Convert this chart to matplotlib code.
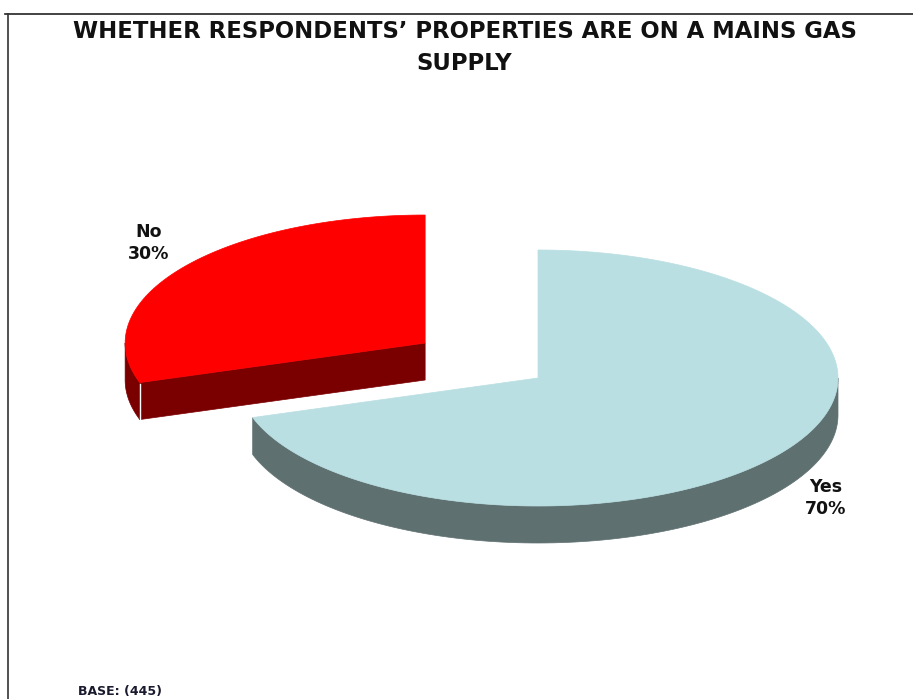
import numpy as np
import matplotlib
matplotlib.use("Agg")
import matplotlib.pyplot as plt
from matplotlib.patches import Polygon

categories = ["Yes", "No"]
shares = [70, 30]
top_colors = ["#B9DFE2", "#FF0000"]
side_colors = ["#5F7071", "#7A0000"]
explode = [0.0, 0.465]

W, H = 913, 699
fig = plt.figure(figsize=(W / 100, H / 100), dpi=100)
ax = fig.add_axes([0, 0, 1, 1])
ax.set_xlim(0, W)
ax.set_ylim(H, 0)
ax.axis("off")

# pie geometry (pixel space, y pointing down)
cx, cy = 538, 378
rx, ry = 300, 128
depth = 37


def pt(x0, y0, ang, r=1.0):
    a = np.deg2rad(ang)
    return x0 + rx * r * np.cos(a), y0 - ry * r * np.sin(a)


# slices run clockwise from 12 o'clock
total = sum(shares)
start = 90.0
slices = []
for name, v, tc, sc, ex in zip(categories, shares, top_colors, side_colors, explode):
    span = 360.0 * v / total
    a_hi, a_lo = start, start - span
    mid = (a_hi + a_lo) / 2
    ox, oy = pt(0, 0, mid, ex)
    slices.append((name, v, a_lo, a_hi, cx + ox, cy + oy, tc, sc))
    start = a_lo

# back slices first so the front one overlaps correctly
order = sorted(range(len(slices)), key=lambda i: slices[i][5])
for i in order:
    name, v, a_lo, a_hi, x0, y0, tc, sc = slices[i]
    lo, hi = a_lo % 360, (a_lo % 360) + (a_hi - a_lo)

    # radial faces that turn towards the viewer
    faces = []
    for edge, sign in ((lo, -1), (hi, 1)):
        normal = edge + sign * 90
        if np.sin(np.deg2rad(normal)) < -0.05:
            ex_, ey_ = pt(x0, y0, edge)
            face = [(x0, y0), (ex_, ey_), (ex_, ey_ + depth), (x0, y0 + depth)]
            ax.add_patch(Polygon(face, closed=True, facecolor=sc, edgecolor=sc, lw=0.5))
            faces.append(edge)

    # outer rim: the front half of the ellipse (180..360 deg)
    for k in range(-1, 2):
        s = max(lo, 180 + 360 * k)
        e = min(hi, 360 + 360 * k)
        if e > s:
            angs = np.linspace(s, e, 120)
            xs, ys = pt(x0, y0, angs)
            rim = list(zip(xs, ys)) + list(zip(xs[::-1], ys[::-1] + depth))
            ax.add_patch(Polygon(rim, closed=True, facecolor=sc, edgecolor=sc, lw=0.5))

    # thin highlight where a radial face meets the rim
    for edge in faces:
        if np.sin(np.deg2rad(edge)) < 0:
            ex_, ey_ = pt(x0, y0, edge)
            ax.plot([ex_, ex_], [ey_ + 1, ey_ + depth], color="white", lw=1.0)

    # top surface
    angs = np.linspace(lo, hi, 300)
    xs, ys = pt(x0, y0, angs)
    top = [(x0, y0)] + list(zip(xs, ys))
    ax.add_patch(Polygon(top, closed=True, facecolor=tc, edgecolor=tc, lw=0.5))

label_font = dict(family="DejaVu Sans", fontweight="bold", fontsize=12.5, color="#111111")
label_pos = {"Yes": (826, 498), "No": (149, 243)}
for name, v, *_ in slices:
    lx, ly = label_pos[name]
    ax.text(lx, ly, f"{name}\n{v}%", ha="center", va="center", linespacing=1.3, **label_font)

ax.text(W / 2 + 8, 47, "WHETHER RESPONDENTS\u2019 PROPERTIES ARE ON A MAINS GAS\nSUPPLY",
        ha="center", va="center", fontsize=16.4, fontweight="bold",
        family="DejaVu Sans", linespacing=1.5, color="#111111")

ax.text(78, 692, "BASE: (445)", ha="left", va="center", fontsize=9.0,
        fontweight="bold", family="DejaVu Sans", color="#1a1a2e")

# frame lines along the top and left of the panel
ax.plot([5, W], [13.5, 13.5], color="#222222", lw=1.2, clip_on=False)
ax.plot([7.5, 7.5], [13.5, H], color="#333333", lw=1.2, clip_on=False)

fig.savefig("out.png", dpi=100)
